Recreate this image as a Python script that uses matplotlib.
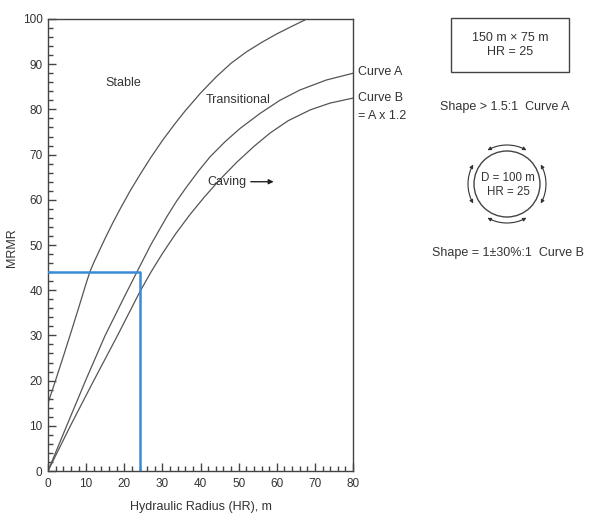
import numpy as np
import matplotlib
matplotlib.use('Agg')
import matplotlib.pyplot as plt
from matplotlib.patches import Circle, Rectangle, FancyArrowPatch
from matplotlib.path import Path
from matplotlib.ticker import MultipleLocator

plt.rcParams['font.family'] = ['Liberation Sans', 'DejaVu Sans']

# stable / transitional boundary
OUTER_HR = [0, 2, 4, 6, 8, 10, 11, 12, 13, 14, 15, 17, 19, 21.5, 24, 27,
            30, 33, 36, 40, 44, 48, 52, 56, 60, 64, 67.9]
OUTER_MRMR = [15, 20.1, 25.3, 30.6, 36.0, 41.5, 44.1, 46.1, 47.9, 49.7,
              51.5, 54.9, 58.1, 61.9, 65.4, 69.4, 73.1, 76.5, 79.7, 83.6,
              87.1, 90.2, 92.7, 94.8, 96.7, 98.4, 100]

# Curve A
A_HR = [0, 5, 10, 15, 20, 23.3, 27, 31.2, 33.8, 36.4, 39.5, 42.5, 46.5,
        50.4, 55.6, 60.8, 66.1, 73, 80]
A_MRMR = [0, 10.2, 20.3, 30, 38.5, 44, 50.1, 56.3, 59.8, 62.9, 66.4, 69.5,
          72.9, 75.8, 79.1, 82, 84.3, 86.5, 88]

# Curve B
B_HR = [0, 6, 12, 18, 24, 27, 30, 33.5, 37.3, 41, 45, 49.5, 54, 58.3, 63,
        68.8, 74, 80]
B_MRMR = [0, 10.2, 20, 29.6, 39.5, 44, 48.1, 52.5, 56.8, 60.6, 64.4, 68.3,
          71.8, 74.8, 77.5, 79.9, 81.4, 82.5]

# example case
CASE_HR = 24
CASE_MRMR = 44

W, H = 593, 521
fig = plt.figure(figsize=(W / 100, H / 100), dpi=100)
ax = fig.add_axes([48 / W, 1 - 471 / H, 305 / W, 452 / H])

line_col = '#555555'
ax.plot(OUTER_HR, OUTER_MRMR, color=line_col, lw=0.9)
ax.plot(A_HR, A_MRMR, color=line_col, lw=0.9)
ax.plot(B_HR, B_MRMR, color=line_col, lw=0.9)
ax.plot([0, CASE_HR, CASE_HR], [CASE_MRMR, CASE_MRMR, 0],
        color='#3a8ad8', lw=1.8, zorder=3)

ax.set_xlim(0, 80)
ax.set_ylim(0, 100)
ax.xaxis.set_major_locator(MultipleLocator(10))
ax.xaxis.set_minor_locator(MultipleLocator(2))
ax.yaxis.set_major_locator(MultipleLocator(10))
ax.yaxis.set_minor_locator(MultipleLocator(2))
ax.tick_params(which='both', direction='in', top=False, right=False,
               color='#444444', labelcolor='#333333', labelsize=8.5)
ax.tick_params(which='major', length=5.5, width=1.0)
ax.tick_params(which='minor', length=3.5, width=1.0)
ax.tick_params(axis='x', pad=5)
ax.tick_params(axis='y', pad=4)
for s in ax.spines.values():
    s.set_color('#444444')
    s.set_linewidth(1.0)

ax.set_xlabel('Hydraulic Radius (HR), m', fontsize=9, color='#333333',
              labelpad=8)

txt = dict(fontsize=9, color='#333333')
ax.text(19.8, 85.8, 'Stable', ha='center', va='center', **txt)
ax.text(49.9, 82.1, 'Transitional', ha='center', va='center', **txt)
ax.text(41.7, 64.0, 'Caving', ha='left', va='center', **txt)
ax.annotate('', xy=(59.2, 64.0), xytext=(53.2, 64.0),
            arrowprops=dict(arrowstyle='-|>', color='#222222', lw=1.0,
                            mutation_scale=7, shrinkA=0, shrinkB=0))

# overlay in pixel coordinates for annotations outside the plot
ov = fig.add_axes([0, 0, 1, 1])
ov.set_xlim(0, W)
ov.set_ylim(H, 0)
ov.axis('off')
ov.patch.set_alpha(0)

ov.text(12, 248, 'MRMR', rotation=90, ha='center', va='center', **txt)
ov.text(358, 72, 'Curve A', ha='left', va='center', **txt)
ov.text(358, 98, 'Curve B', ha='left', va='center', **txt)
ov.text(358, 116, '= A x 1.2', ha='left', va='center', **txt)

ov.add_patch(Rectangle((451, 18), 118, 54, fill=False, ec='#444444', lw=1.0))
ov.text(510, 45, '150 m × 75 m\nHR = 25', ha='center', va='center',
        linespacing=1.25, **txt)
ov.text(505, 107, 'Shape > 1.5:1  Curve A', ha='center', va='center', **txt)

cx, cy, r = 507, 184, 33
ov.add_patch(Circle((cx, cy), r, fill=False, ec='#444444', lw=1.0))
ov.text(cx + 1, cy + 1, 'D = 100 m\nHR = 25', ha='center', va='center',
        linespacing=1.15, fontsize=8.3, color='#333333')
ro = 39
for mid in (90, 180, 270, 0):
    ang = np.radians(np.linspace(mid - 30, mid + 30, 20))
    verts = np.column_stack([cx + ro * np.cos(ang), cy - ro * np.sin(ang)])
    ov.add_patch(FancyArrowPatch(path=Path(verts), arrowstyle='<|-|>',
                                 mutation_scale=5, color='#333333', lw=0.8))

ov.text(508, 253, 'Shape = 1±30%:1  Curve B', ha='center', va='center', **txt)

fig.savefig('out.png', dpi=100)
